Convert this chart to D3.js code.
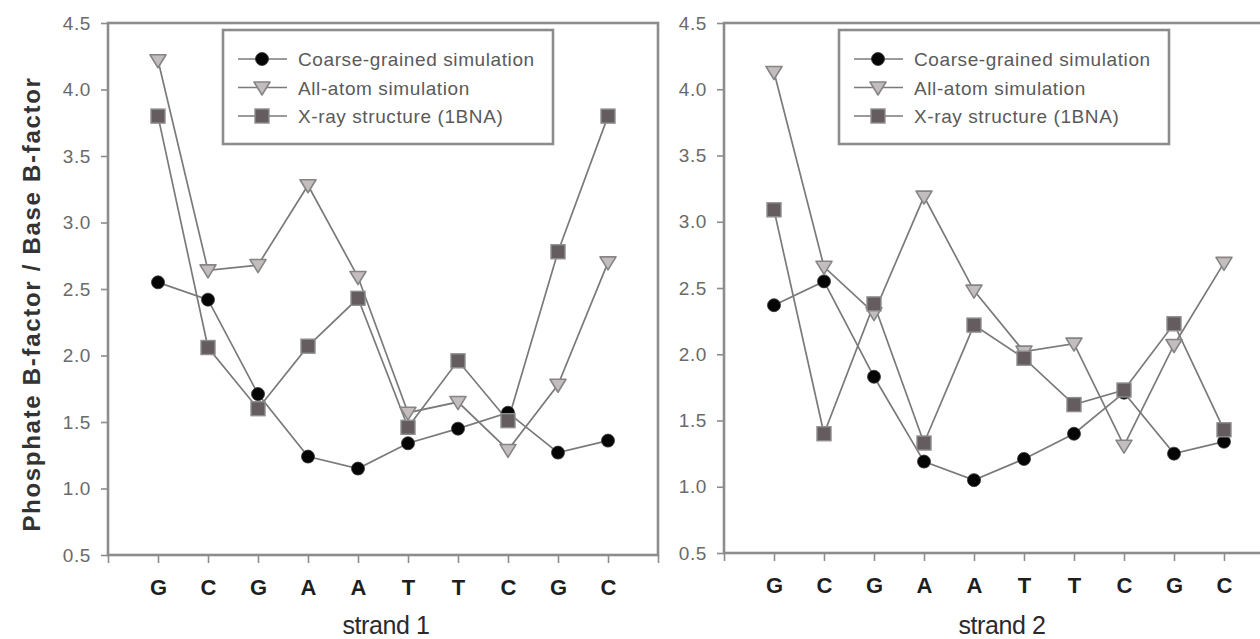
<!DOCTYPE html>
<html><head><meta charset="utf-8">
<script src="https://cdn.jsdelivr.net/npm/d3@7"></script>
<style>body{margin:0;background:#fff} svg{display:block}</style>
</head><body>
<svg id="chart" width="1260" height="639"></svg>
<script>
// Base sequence along each strand
const bases1 = ["G", "C", "G", "A", "A", "T", "T", "C", "G", "C"];
const bases2 = ["G", "C", "G", "A", "A", "T", "T", "C", "G", "C"];
const seriesNames = ["Coarse-grained simulation", "All-atom simulation", "X-ray structure (1BNA)"];
const yTicks = [0.5, 1.0, 1.5, 2.0, 2.5, 3.0, 3.5, 4.0, 4.5];
const strandTitles = ["strand 1", "strand 2"];
const yLabel = "Phosphate B-factor / Base B-factor";

// Phosphate / base B-factor ratio per nucleotide
const strand1Coarse  = [2.55, 2.42, 1.71, 1.24, 1.15, 1.34, 1.45, 1.57, 1.27, 1.36];
const strand1AllAtom = [4.22, 2.64, 2.68, 3.28, 2.59, 1.57, 1.65, 1.29, 1.78, 2.70];
const strand1Xray    = [3.80, 2.06, 1.60, 2.07, 2.43, 1.46, 1.96, 1.51, 2.78, 3.80];
const strand2Coarse  = [2.37, 2.55, 1.83, 1.19, 1.05, 1.21, 1.40, 1.71, 1.25, 1.34];
const strand2AllAtom = [4.13, 2.66, 2.31, 3.19, 2.48, 2.02, 2.08, 1.31, 2.07, 2.69];
const strand2Xray    = [3.09, 1.40, 2.38, 1.33, 2.22, 1.97, 1.62, 1.73, 2.23, 1.43];

const FONT = "'Liberation Sans', Arial, Helvetica, sans-serif";
const frameColor = "#8c8c8c";
const lineColor = "#7a7a7a";

const svg = d3.select("#chart");

const panels = [
  { title: strandTitles[0], bases: bases1, data: [strand1Coarse, strand1AllAtom, strand1Xray], left: 108, top: 23, bottom: 555 },
  { title: strandTitles[1], bases: bases2, data: [strand2Coarse, strand2AllAtom, strand2Xray], left: 724, top: 23, bottom: 553 }
];

// Marker painters
function drawMarker(g, kind, x, y) {
  if (kind === 0) {
    g.append("circle").attr("cx", x).attr("cy", y).attr("r", 6.5)
      .attr("fill", "#050505").attr("stroke", "#333").attr("stroke-width", 0.8);
  } else if (kind === 1) {
    const w = 8, h = 13;
    g.append("path")
      .attr("d", `M${x - w},${y - h / 2 + 1}L${x + w},${y - h / 2 + 1}L${x},${y + h / 2 + 1}Z`)
      .attr("fill", "#c4bdbd").attr("stroke", "#858585").attr("stroke-width", 1.6)
      .attr("stroke-linejoin", "round");
  } else {
    const s = 14;
    g.append("rect").attr("x", x - s / 2).attr("y", y - s / 2).attr("width", s).attr("height", s)
      .attr("fill", "#645c5e").attr("stroke", "#8e8e8e").attr("stroke-width", 1.4);
  }
}

panels.forEach(p => {
  const width = 550;
  const x = d3.scaleLinear().domain([0, 11]).range([p.left, p.left + width]);
  const y = d3.scaleLinear().domain([0.5, 4.5]).range([p.bottom, p.top]);
  const g = svg.append("g");

  // y axis ticks and labels
  const yAxis = g.append("g").attr("transform", `translate(${p.left},0)`)
    .call(d3.axisLeft(y).tickValues(yTicks).tickFormat(d3.format(".1f")).tickSize(7).tickPadding(10));
  yAxis.select(".domain").remove();
  yAxis.selectAll(".tick line").attr("stroke", frameColor).attr("stroke-width", 1.6);
  yAxis.selectAll(".tick text").attr("font-family", FONT).attr("font-size", 19)
    .attr("fill", "#6a6a6a").attr("letter-spacing", "0.6px");

  // x axis ticks (every position) and base letters
  const xAxis = g.append("g").attr("transform", `translate(0,${p.bottom})`)
    .call(d3.axisBottom(x).tickValues(d3.range(0, 12)).tickFormat(i => (i >= 1 && i <= 10) ? p.bases[i - 1] : "")
      .tickSize(8).tickPadding(16));
  xAxis.select(".domain").remove();
  xAxis.selectAll(".tick line").attr("stroke", frameColor).attr("stroke-width", 1.6);
  xAxis.selectAll(".tick text").attr("font-family", FONT).attr("font-size", 22)
    .attr("font-weight", "bold").attr("fill", "#1e1e1e");

  // plot frame
  g.append("rect").attr("x", p.left).attr("y", p.top).attr("width", width).attr("height", p.bottom - p.top)
    .attr("fill", "none").attr("stroke", frameColor).attr("stroke-width", 2.6);

  // strand title
  g.append("text").attr("x", p.left + 278).attr("y", 634)
    .attr("text-anchor", "middle").attr("font-family", FONT).attr("font-size", 25)
    .attr("fill", "#2a2a2a").attr("letter-spacing", "-0.4px").text(p.title);

  // series lines, then markers
  const line = d3.line().x((d, i) => x(i + 1)).y(d => y(d));
  p.data.forEach((vals, k) => {
    g.append("path").datum(vals).attr("d", line)
      .attr("fill", "none").attr("stroke", lineColor).attr("stroke-width", 1.7);
  });
  p.data.forEach((vals, k) => {
    const mg = g.append("g");
    vals.forEach((v, i) => drawMarker(mg, k, x(i + 1), y(v)));
  });

  // legend
  const lx = p.left + 115, ly = 30;
  const lg = g.append("g");
  lg.append("rect").attr("x", lx).attr("y", ly).attr("width", 330).attr("height", 114)
    .attr("fill", "#fff").attr("stroke", frameColor).attr("stroke-width", 2.6);
  seriesNames.forEach((name, k) => {
    const ry = ly + 29 + k * 28.5;
    lg.append("line").attr("x1", lx + 15).attr("x2", lx + 64).attr("y1", ry).attr("y2", ry)
      .attr("stroke", lineColor).attr("stroke-width", 1.7);
    drawMarker(lg, k, lx + 39, ry);
    lg.append("text").attr("x", lx + 75).attr("y", ry + 7).attr("font-family", FONT)
      .attr("font-size", 19).attr("letter-spacing", "0.6px").attr("fill", "#5a5a5a").text(name);
  });
});

// shared y-axis title
svg.append("text").attr("transform", "translate(40,304) rotate(-90)")
  .attr("text-anchor", "middle").attr("font-family", FONT).attr("font-size", 24)
  .attr("font-weight", "bold").attr("letter-spacing", "1.7px")
  .attr("fill", "#333").text(yLabel);
</script>
</body></html>
